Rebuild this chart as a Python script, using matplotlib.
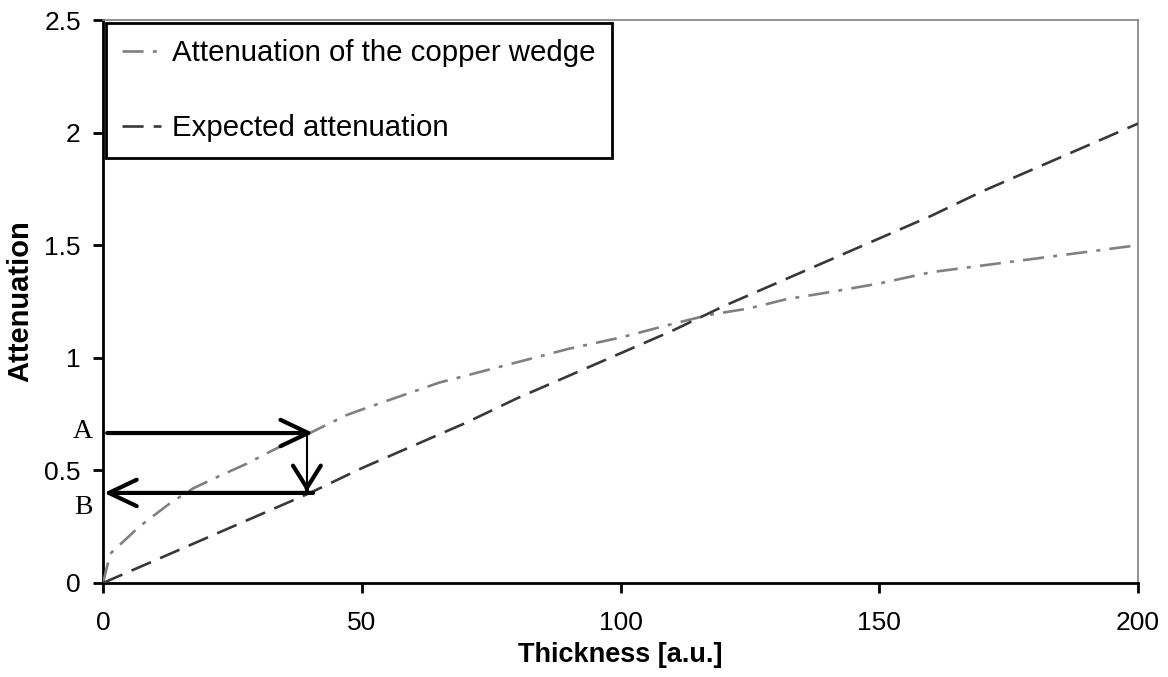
import matplotlib
matplotlib.use("Agg")
import matplotlib.pyplot as plt

# Data
thickness_cu = [0, 1.4, 7, 13, 17.4, 22, 27.8, 32, 36.8, 40, 43, 47, 50, 55, 60, 65, 70, 75, 80,
                90, 100, 110, 117, 125, 132, 140, 150, 160, 170, 180, 190, 200]
atten_cu = [0, 0.13, 0.25, 0.355, 0.42, 0.47, 0.53, 0.58, 0.635, 0.666, 0.70, 0.745, 0.77, 0.81, 0.85,
            0.89, 0.92, 0.95, 0.98, 1.04, 1.09, 1.15, 1.19, 1.22, 1.26, 1.29, 1.33, 1.38, 1.41, 1.44, 1.47, 1.50]
thickness_exp = [0, 10, 20, 30, 40, 50, 60, 70, 80, 90, 100, 110, 120, 130, 140, 150, 160, 170, 180, 190, 200]
atten_exp = [0, 0.10, 0.20, 0.30, 0.40, 0.51, 0.61, 0.71, 0.82, 0.92, 1.02, 1.12, 1.23, 1.33, 1.43,
             1.53, 1.63, 1.74, 1.84, 1.94, 2.04]
xticks = [0, 50, 100, 150, 200]
yticks = [0, 0.5, 1, 1.5, 2, 2.5]
ytick_labels = ["0", "0.5", "1", "1.5", "2", "2.5"]
label_cu = "Attenuation of the copper wedge"
label_exp = "Expected attenuation"
point_A = (40, 0.666)
point_B = (40, 0.40)

plt.rcParams['font.family'] = ['Liberation Sans', 'DejaVu Sans']

fig = plt.figure(figsize=(11.68, 6.77), dpi=100)
ax = fig.add_axes([103/1168, 1 - 583/677, (1138-103)/1168, (583-20)/677])

ax.plot(thickness_cu, atten_cu, color='#808080', lw=1.9, linestyle=(0, (8, 3.5, 1.5, 3.5)),
        label=label_cu, zorder=3)
ax.plot(thickness_exp, atten_exp, color='#383838', lw=1.9, linestyle=(0, (8, 3.8)),
        label=label_exp, zorder=3)

ax.set_xlim(0, 200)
ax.set_ylim(0, 2.5)
ax.set_xticks(xticks)
ax.set_yticks(yticks)
ax.set_yticklabels(ytick_labels, fontsize=19)
ax.set_xticklabels([str(t) for t in xticks], fontsize=19)
ax.tick_params(axis='y', direction='out', length=7, width=2, labelsize=19, pad=9)
ax.tick_params(axis='x', direction='out', length=7, width=2, labelsize=19, pad=13)

for s in ['left', 'bottom']:
    ax.spines[s].set_linewidth(2)
    ax.spines[s].set_color('black')
for s in ['top', 'right']:
    ax.spines[s].set_linewidth(1.2)
    ax.spines[s].set_color('#808080')

ax.set_xlabel("Thickness [a.u.]", fontsize=19.5, fontweight='bold', labelpad=5)
ax.set_ylabel("Attenuation", fontsize=21, fontweight='bold')
ax.yaxis.set_label_coords(-(103 - 34) / 1035, 0.5)

leg = ax.legend(loc='upper left', bbox_to_anchor=(0.003, 0.995), fontsize=21.2, frameon=True,
                fancybox=False, edgecolor='black', framealpha=1, labelspacing=1.6,
                handlelength=1.3, handletextpad=0.4, borderpad=0.55, borderaxespad=0)
leg.get_frame().set_linewidth(2)

head = '->,head_length=2.0,head_width=0.95'
# Arrow A -> point on copper curve
ax.annotate("", xy=(point_A[0] + 0.6, point_A[1]), xytext=(0.8, point_A[1]),
            arrowprops=dict(arrowstyle=head, lw=3, color='black', shrinkA=0, shrinkB=0), zorder=4)
# vertical thin line
ax.plot([point_A[0] - 0.6, point_A[0] - 0.6], [point_A[1], point_B[1] + 0.02], color='black',
        lw=1.5, zorder=4)
# thick V head
ax.annotate("", xy=(point_B[0] - 0.6, point_B[1] + 0.005), xytext=(point_B[0] - 0.6, point_B[1] + 0.02),
            arrowprops=dict(arrowstyle='->,head_length=1.6,head_width=1.0', lw=3, color='black',
                            shrinkA=0, shrinkB=0), zorder=4)
# Arrow B back to axis
ax.annotate("", xy=(0.2, point_B[1]), xytext=(point_B[0] + 0.6, point_B[1]),
            arrowprops=dict(arrowstyle=head, lw=3, color='black', shrinkA=0, shrinkB=0), zorder=4)

fig.text(83/1168, 1 - 432/677, "A", fontsize=20, family=['Liberation Serif'], ha='center', va='center')
fig.text(83/1168, 1 - 508/677, "B", fontsize=20, family=['Liberation Serif'], ha='center', va='center')

fig.savefig("out.png", dpi=100)
